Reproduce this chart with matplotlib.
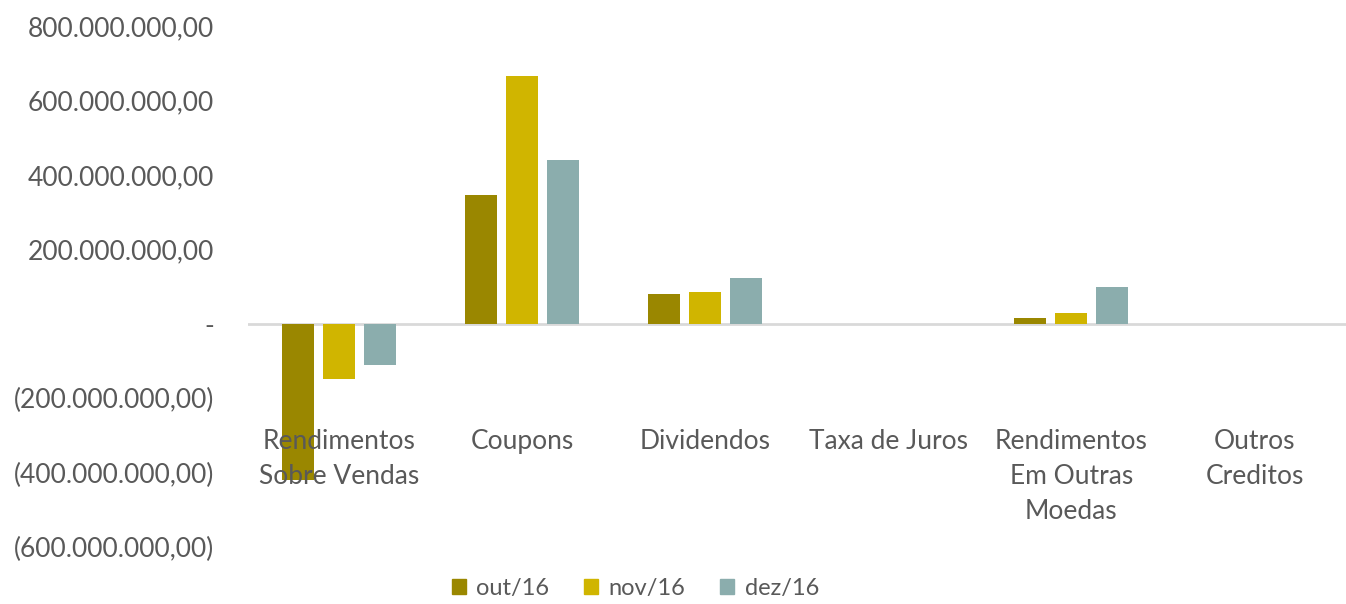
import numpy as np
import matplotlib.pyplot as plt
from matplotlib.transforms import blended_transform_factory
from matplotlib.patches import Patch

categories = ["Rendimentos\nSobre Vendas", "Coupons", "Dividendos", "Taxa de Juros",
              "Rendimentos\nEm Outras\nMoedas", "Outros\nCreditos"]
series = ["out/16", "nov/16", "dez/16"]
out16 = [-420e6, 345e6, 81e6, 0, 16e6, 0]
nov16 = [-148e6, 665e6, 86e6, 0, 30e6, 0]
dez16 = [-110e6, 441e6, 124e6, 0, 100e6, 0]
colors = ["#9A8700", "#D0B500", "#8BADAD"]

plt.rcParams['font.family'] = ['Lato', 'DejaVu Sans']
txt = "#595959"
fs = 19

fig = plt.figure(figsize=(13.46, 6.04), dpi=100)
ax = fig.add_axes([0.184, 0.094, 0.816, 0.863])

x = np.arange(len(categories))
w = 0.175
step = 0.224
for k, vals in enumerate([out16, nov16, dez16]):
    ax.bar(x + (k - 1) * step, vals, w, color=colors[k], zorder=2)

ax.axhline(0, color="#D9D9D9", lw=2, zorder=1)
ax.set_xlim(-0.5, len(categories) - 0.5)
ax.set_ylim(-600e6, 800e6)

def fmt(v):
    if v == 0:
        return "-"
    s = f"{abs(v):,.2f}".replace(",", "X").replace(".", ",").replace("X", ".")
    return f"({s})" if v < 0 else s

yt = np.arange(-600e6, 800e6 + 1, 200e6)
ax.set_yticks(yt)
ax.set_yticklabels([fmt(v) for v in yt], color=txt, fontsize=fs)
ax.tick_params(axis='y', length=0, pad=24)
ax.set_xticks([])
for s in ax.spines.values():
    s.set_visible(False)

tr = blended_transform_factory(ax.transData, ax.transAxes)
for i, c in enumerate(categories):
    ax.text(i, 0.226, c, transform=tr, ha='center', va='top', fontsize=fs,
            color=txt, linespacing=1.5, zorder=3)

handles = [Patch(color=colors[k], label=series[k]) for k in range(3)]
fig.legend(handles=handles, loc='lower center', bbox_to_anchor=(0.472, -0.027), ncol=3,
           frameon=False, fontsize=17, labelcolor=txt, handlelength=0.6,
           handleheight=0.6, handletextpad=0.45, columnspacing=1.45)

fig.savefig("out.png", dpi=100)
